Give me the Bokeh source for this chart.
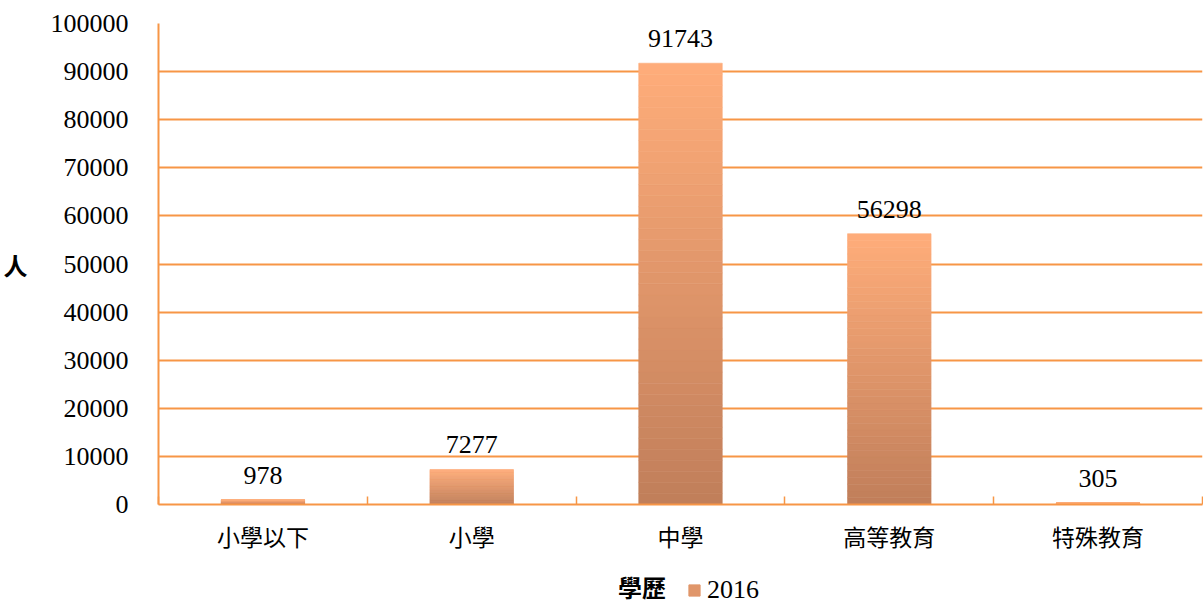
from bokeh.plotting import figure
from bokeh.layouts import column
from bokeh.models import (ColumnDataSource, Range1d, FixedTicker, Legend, LegendItem,
                          BasicTickFormatter)
from bokeh.core.properties import value
from bokeh.embed import file_html
from bokeh.resources import INLINE

categories = ["小學以下", "小學", "中學", "高等教育", "特殊教育"]
values = [978, 7277, 91743, 56298, 305]
series_name = "2016"
y_ticks = [0, 10000, 20000, 30000, 40000, 50000, 60000, 70000, 80000, 90000, 100000]
x_title = "學歷"
y_title = "人"

ORANGE = "#F79646"
TOP = (255, 173, 122)
BOT = (192, 126, 90)
SERIF = "Liberation Serif"
CJK = "Noto Sans CJK TC"

def hexc(c):
    return "#%02x%02x%02x" % tuple(int(round(v)) for v in c)

N = 40
xs, bots, tops, cols = [], [], [], []
for i, v in enumerate(values):
    for k in range(N):
        t = (k + 0.5) / N
        c = tuple(BOT[j] + (TOP[j] - BOT[j]) * t for j in range(3))
        xs.append(i + 0.5)
        bots.append(v * k / N)
        tops.append(v * (k + 1) / N)
        cols.append(hexc(c))
src = ColumnDataSource(dict(x=xs, bottom=bots, top=tops, color=cols))

p = figure(width=1203, height=560, output_backend="svg", toolbar_location=None,
           x_range=Range1d(0, len(categories)), y_range=Range1d(0, 100000),
           min_border_left=0, min_border_right=1, min_border_top=23, min_border_bottom=56)
p.outline_line_color = None
p.background_fill_color = "white"

bars = p.vbar(x="x", bottom="bottom", top="top", width=0.4, source=src,
              fill_color="color", line_color="color", line_width=0.6)

centers = [i + 0.5 for i in range(len(categories))]
lab = ColumnDataSource(dict(x=centers, y=values, t=[str(v) for v in values]))
p.text(x="x", y="y", text="t", source=lab, text_align="center", text_baseline="bottom",
       y_offset=-16, text_font=value(SERIF), text_font_size="26px", text_color="black")

# x axis
xa = p.xaxis[0]
xa.ticker = FixedTicker(ticks=centers, minor_ticks=list(range(len(categories) + 1)))
xa.major_label_overrides = {c: n for c, n in zip(centers, categories)}
xa.major_tick_in = 0
xa.major_tick_out = 0
xa.minor_tick_in = 8
xa.minor_tick_out = 0
xa.minor_tick_line_color = ORANGE
xa.minor_tick_line_width = 1.5
xa.axis_line_color = ORANGE
xa.axis_line_width = 2
xa.major_label_text_font = CJK
xa.major_label_text_font_size = "23px"
xa.major_label_text_color = "black"
xa.major_label_standoff = 14

# y axis
ya = p.yaxis[0]
ya.ticker = FixedTicker(ticks=y_ticks)
ya.formatter = BasicTickFormatter(use_scientific=False)
ya.major_tick_in = 0
ya.major_tick_out = 0
ya.minor_tick_in = 0
ya.minor_tick_out = 0
ya.axis_line_color = ORANGE
ya.axis_line_width = 2
ya.major_label_text_font = SERIF
ya.major_label_text_font_size = "26px"
ya.major_label_text_color = "black"
ya.major_label_standoff = 30
ya.axis_label = y_title
ya.axis_label_orientation = "horizontal"
ya.axis_label_text_font = CJK
ya.axis_label_text_font_style = "bold"
ya.axis_label_text_font_size = "24px"
ya.axis_label_text_color = "black"
ya.axis_label_standoff = 20

p.xgrid.grid_line_color = None
p.ygrid.grid_line_color = ORANGE
p.ygrid.grid_line_width = 1.8

# legend strip
q = figure(width=1203, height=46, output_backend="svg", toolbar_location=None,
           x_range=Range1d(0, 1), y_range=Range1d(0, 1),
           x_axis_type=None, y_axis_type=None,
           min_border_left=0, min_border_right=0, min_border_top=0, min_border_bottom=0)
q.outline_line_color = None
q.xgrid.grid_line_color = None
q.ygrid.grid_line_color = None
dummy = q.scatter(x=[], y=[], size=0, fill_alpha=0, line_alpha=0)
swatch = q.vbar(x="x", bottom="bottom", top="top", width=0.4, source=src,
                fill_color="color", line_color="color", visible=False)

leg_title = Legend(items=[LegendItem(label=x_title, renderers=[dummy])],
                   location=(460, 2), orientation="horizontal",
                   border_line_color=None, background_fill_alpha=0,
                   label_text_font=CJK, label_text_font_size="24px", label_text_font_style="bold",
                   label_text_color="black",
                   glyph_width=0, glyph_height=14, padding=0, margin=0, label_standoff=0)
leg = Legend(items=[LegendItem(label=series_name, renderers=[swatch], index=N // 2)],
             location=(529, 1), orientation="horizontal",
             border_line_color=None, background_fill_alpha=0, inactive_fill_alpha=0,
             label_text_font=SERIF, label_text_font_size="26px", label_text_color="black",
             glyph_width=14, glyph_height=14, padding=0, margin=0, label_standoff=6)
q.add_layout(leg_title)
q.add_layout(leg)

open("out.html", "w").write(file_html(column(p, q, spacing=0), INLINE))
